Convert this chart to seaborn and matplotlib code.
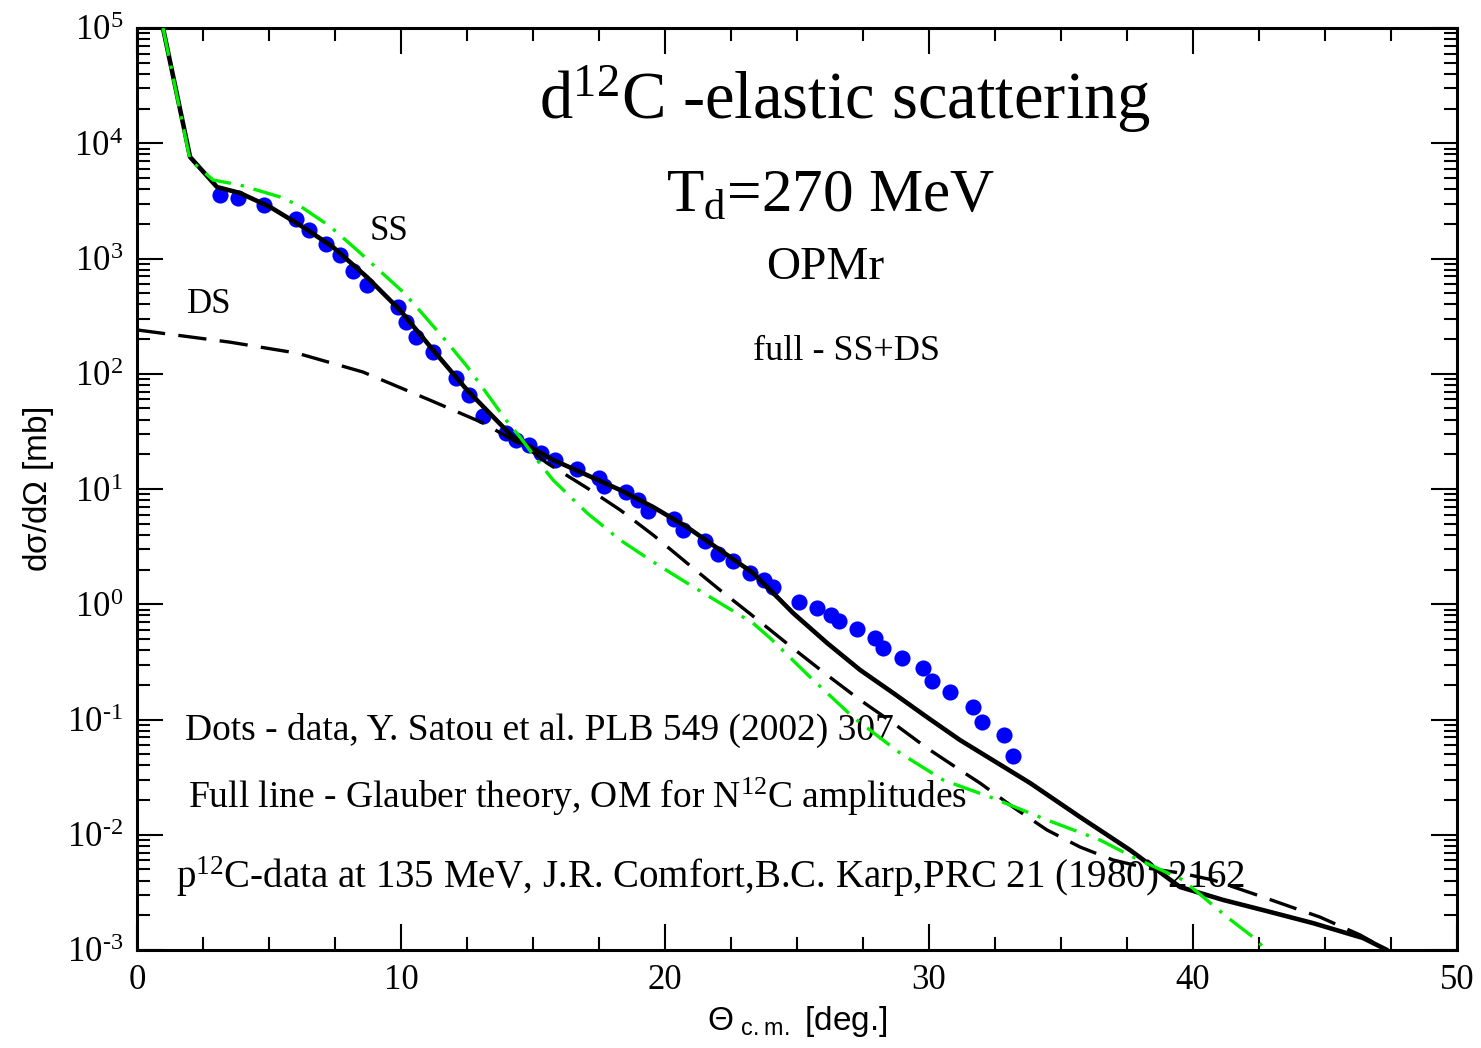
import numpy as np
import pandas as pd
import seaborn as sns
import matplotlib.pyplot as plt
from matplotlib.ticker import MultipleLocator, LogLocator, NullFormatter

# Full line - Glauber theory (SS+DS)
full_deg = [0.985, 2.01, 3.03, 3.90, 5.04, 6.29, 7.42, 8.71, 9.96, 11.21, 12.50, 14.24,
            15.76, 17.05, 18.30, 19.55, 20.83, 22.08, 23.33, 24.36, 24.85, 26.14, 27.39,
            28.64, 29.92, 31.17, 33.83, 35.72, 37.61, 39.51, 41.14, 42.65, 44.55, 46.44, 47.35]
full_xs = [1.0e5, 7600, 4170, 3700, 2800, 1875, 1259, 690, 357, 161, 72.3, 28.2,
           17.9, 13.2, 9.8, 6.98, 4.68, 2.96, 1.87, 1.09, 0.84, 0.461, 0.269,
           0.170, 0.105, 0.0664, 0.0281, 0.01426, 0.00738, 0.00352, 0.00272, 0.00222,
           0.00171, 0.00127, 0.001]

# SS - single scattering (green dash-dot)
ss_deg = [0.985, 2.01, 2.88, 3.90, 5.42, 6.18, 7.31, 8.33, 9.20, 10.08, 10.72, 11.59,
          12.50, 13.26, 14.02, 14.51, 15.15, 15.76, 17.05, 18.30, 19.55, 20.83, 22.08,
          23.33, 23.98, 25.49, 27.12, 28.90, 30.53, 32.42, 34.47, 36.48, 37.73, 39.62,
          41.29, 42.42, 42.90]
ss_xs = [1.0e5, 7160, 4800, 4340, 3420, 2850, 1900, 1186, 780, 512, 351, 207,
         116, 67, 38.5, 28.2, 17.9, 11.97, 6.19, 3.61, 2.33, 1.53, 1.025,
         0.687, 0.509, 0.234, 0.105, 0.0512, 0.0299, 0.0208, 0.01343, 0.0090, 0.00641, 0.00405,
         0.00193, 0.00122, 0.00091]

# DS - double scattering (dashed)
ds_deg = [0.0, 3.52, 6.06, 8.56, 11.10, 13.11, 14.89, 15.53, 17.05, 18.30, 19.55, 20.83,
          22.08, 23.33, 24.74, 26.14, 27.39, 28.64, 29.92, 31.17, 31.93, 33.18,
          34.47, 35.72, 36.97, 38.26, 39.51, 40.76, 42.65, 44.81, 46.33, 47.35]
ds_xs = [240, 188, 151, 103.5, 59.0, 37.4, 21.8, 16.8, 10.2, 6.58, 3.99, 2.28,
         1.33, 0.791, 0.434, 0.243, 0.1476, 0.0933, 0.0566, 0.0365, 0.0281, 0.0174,
         0.0110, 0.00783, 0.00604, 0.00514, 0.00466, 0.00405, 0.00288, 0.00193, 0.00135, 0.001]

# Dots - data, Y. Satou et al.
data_deg = [3.14, 3.83, 4.81, 6.02, 6.52, 7.16, 7.69, 8.18, 8.71, 9.89, 10.19, 10.57,
            11.21, 12.08, 12.58, 13.11, 13.98, 14.36, 14.85, 15.30, 15.83, 16.67, 17.50,
            17.69, 18.52, 18.98, 19.36, 20.34, 20.68, 21.52, 22.01, 22.58, 23.22, 23.75,
            24.09, 25.08, 25.76, 26.29, 26.59, 27.27, 27.95, 28.26, 28.98, 29.77, 30.11,
            30.80, 31.67, 32.01, 32.84, 33.18]
data_xs = [3560, 3350, 2910, 2200, 1770, 1340, 1070, 780, 589, 380, 281, 208,
           155, 92, 65, 43, 30.6, 26.6, 24.1, 20.5, 17.9, 14.9, 12.5,
           10.6, 9.4, 8.0, 6.4, 5.5, 4.4, 3.54, 2.73, 2.37, 1.87, 1.62,
           1.41, 1.05, 0.93, 0.81, 0.72, 0.61, 0.51, 0.42, 0.34, 0.28, 0.216,
           0.173, 0.128, 0.095, 0.073, 0.048]

decades = np.arange(-3, 6)

sns.set_style('ticks')
plt.rcParams['font.family'] = ['Liberation Serif', 'DejaVu Serif']
plt.rcParams['text.color'] = 'black'
plt.rcParams['axes.labelcolor'] = 'black'
plt.rcParams['xtick.color'] = 'black'
plt.rcParams['ytick.color'] = 'black'

fig = plt.figure(figsize=(14.81, 10.48), dpi=100)
ax = fig.add_axes([137 / 1481, 98 / 1048, 1320 / 1481, 922 / 1048])
ax.set_yscale('log')

sns.scatterplot(x=data_deg, y=data_xs, color='#0000ff', s=135, linewidth=0, ax=ax, zorder=2)
sns.lineplot(x=ds_deg, y=ds_xs, color='black', linewidth=2.4, estimator=None, sort=False,
             linestyle=(0, (8.5, 4)), ax=ax, zorder=3)
sns.lineplot(x=full_deg, y=full_xs, color='black', linewidth=3.3, estimator=None, sort=False,
             ax=ax, zorder=4)
sns.lineplot(x=ss_deg, y=ss_xs, color='#00ee00', linewidth=2.4, estimator=None, sort=False,
             linestyle=(0, (8.5, 3, 1, 3)), ax=ax, zorder=5)

ax.set_xlim(0, 50)

ax.xaxis.set_major_locator(MultipleLocator(10))
ax.xaxis.set_minor_locator(MultipleLocator(2.5))
ax.set_yticks(10.0 ** decades)
# exponent written with a plain hyphen (U+2010) like the original
ax.set_yticklabels([r'$\mathregular{10^{%s}}$' % str(d).replace('-', '\u2010') for d in decades])
ax.yaxis.set_minor_locator(LogLocator(base=10, subs=np.arange(2, 10), numticks=20))
ax.yaxis.set_minor_formatter(NullFormatter())
ax.set_ylim(1e-3, 1e5)

ax.tick_params(which='both', direction='in', top=True, right=True, width=1.5, colors='black')
ax.tick_params(which='major', length=19, pad=10, labelsize=25)
ax.tick_params(which='minor', length=9.5)
for s in ax.spines.values():
    s.set_linewidth(2.2)
    s.set_color('black')

ax.set_xlabel(r'$\mathregular{\Theta_{\ c.m.}}$ [deg.]', family='Liberation Sans', fontsize=24, labelpad=5)
ax.set_ylabel(r'd$\mathregular{\sigma}$/d$\mathregular{\Omega}$ [mb]', family='Liberation Sans', fontsize=24, labelpad=8)

ax.text(26.8, 2.4e4, r'd$\mathregular{^{12}}$C -elastic scattering', fontsize=48, ha='center', va='center')
ax.text(26.25, 3500, r'$\mathregular{T_d}$=270 MeV', fontsize=44, ha='center', va='center')
ax.text(26.06, 830, 'OPMr', fontsize=34, ha='center', va='center')
ax.text(26.86, 155, 'full - SS+DS', fontsize=26, ha='center', va='center')
ax.text(9.55, 1700, 'SS', fontsize=25, ha='center', va='center')
ax.text(2.73, 395, 'DS', fontsize=25, ha='center', va='center')
ax.text(1.82, 0.081, 'Dots - data, Y. Satou et al. PLB 549 (2002) 307', fontsize=27, ha='left', va='center')
ax.text(1.93, 0.0213, r'Full line - Glauber theory, OM for N$\mathregular{^{12}}$C amplitudes',
        fontsize=27, ha='left', va='center')
ax.text(1.48, 0.0043, r'p$\mathregular{^{12}}$C-data at 135 MeV, J.R. Comfort,B.C. Karp,PRC 21 (1980) 2162',
        fontsize=28, ha='left', va='center')

fig.savefig('out.png', dpi=100)
